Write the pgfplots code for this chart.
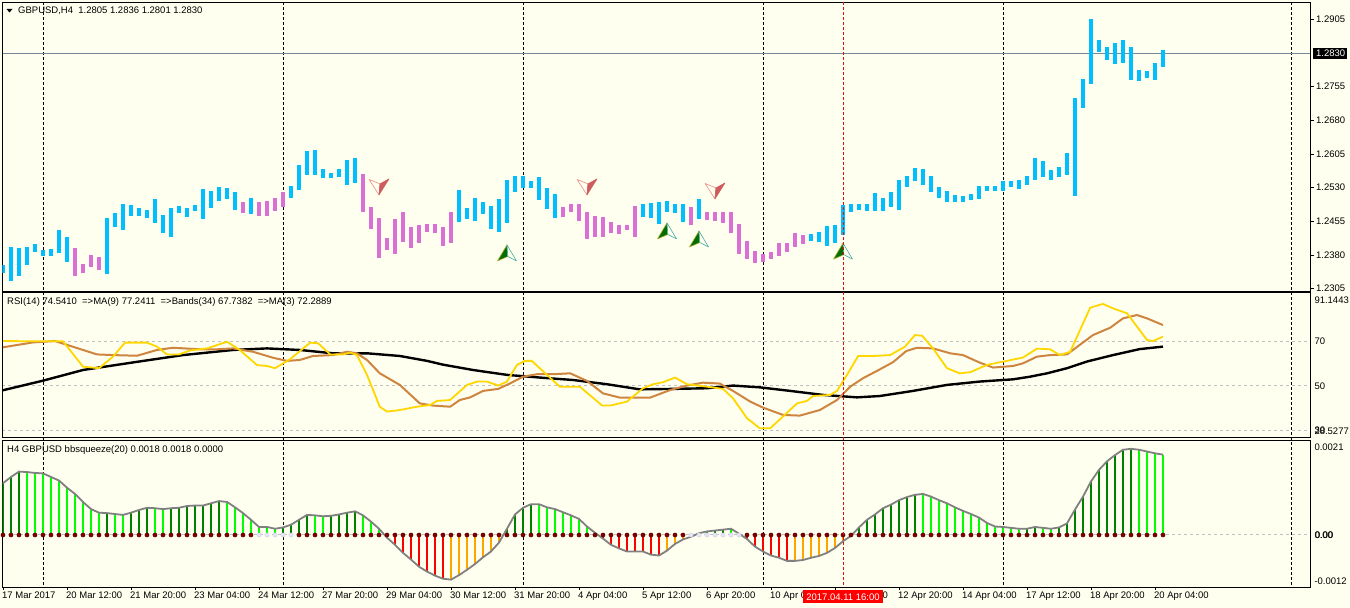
\documentclass[border=0pt]{standalone}
\usepackage{pgfplots}
\pgfplotsset{compat=1.18}
\usepackage{pgfplotstable}
\usepackage{fontspec}
\setmainfont{Liberation Sans}
\newcommand\mt{\fontsize{9.5bp}{11bp}\selectfont}

\definecolor{mtivory}{RGB}{255,255,240}
\definecolor{skyb}{RGB}{0,191,255}
\definecolor{orch}{RGB}{218,112,214}
\definecolor{rsigold}{RGB}{255,215,0}
\definecolor{rsiperu}{RGB}{205,133,63}
\definecolor{hdgreen}{RGB}{0,128,0}
\definecolor{hlime}{RGB}{0,255,0}
\definecolor{hred}{RGB}{255,0,0}
\definecolor{horange}{RGB}{255,165,0}
\definecolor{hgray}{RGB}{128,128,128}
\definecolor{hmaroon}{RGB}{128,0,0}
\definecolor{hmaroonD}{RGB}{90,0,0}
\definecolor{hlav}{RGB}{230,230,250}
\definecolor{hlavD}{RGB}{205,205,235}
\definecolor{slate}{RGB}{119,136,153}
\definecolor{silv}{RGB}{192,192,192}
\definecolor{bgreen}{RGB}{0,110,0}
\definecolor{byellow}{RGB}{170,170,40}
\definecolor{bcyan}{RGB}{70,170,160}
\definecolor{indred}{RGB}{205,92,92}
\definecolor{salm}{RGB}{235,140,130}
\definecolor{vline}{RGB}{215,20,20}

\pgfdeclareplotmark{buyarrow}{%
  \pgfsetlinewidth{0.6bp}%
  \pgfsetroundjoin
  \pgfpathmoveto{\pgfpoint{0bp}{8bp}}%
  \pgfpathlineto{\pgfpoint{-9.5bp}{-8bp}}%
  \pgfpathlineto{\pgfpoint{0.8bp}{-3.5bp}}%
  \pgfpathclose
  \pgfsetfillcolor{bgreen}\pgfsetstrokecolor{byellow}%
  \pgfusepath{fill,stroke}%
  \pgfpathmoveto{\pgfpoint{0bp}{8bp}}%
  \pgfpathlineto{\pgfpoint{0.8bp}{-3.5bp}}%
  \pgfpathlineto{\pgfpoint{9.5bp}{-8bp}}%
  \pgfpathclose
  \pgfsetfillcolor{mtivory}\pgfsetstrokecolor{bcyan}%
  \pgfusepath{fill,stroke}%
}
\pgfdeclareplotmark{sellarrow}{%
  \pgfsetlinewidth{0.6bp}%
  \pgfsetroundjoin
  \pgfpathmoveto{\pgfpoint{0bp}{-8bp}}%
  \pgfpathlineto{\pgfpoint{-10bp}{7.5bp}}%
  \pgfpathlineto{\pgfpoint{1bp}{3bp}}%
  \pgfpathclose
  \pgfsetfillcolor{mtivory}\pgfsetstrokecolor{salm}%
  \pgfusepath{fill,stroke}%
  \pgfpathmoveto{\pgfpoint{0bp}{-8bp}}%
  \pgfpathlineto{\pgfpoint{1bp}{3bp}}%
  \pgfpathlineto{\pgfpoint{10bp}{8bp}}%
  \pgfpathclose
  \pgfsetfillcolor{indred}\pgfsetstrokecolor{indred}%
  \pgfusepath{fill,stroke}%
}

% price bars: index, high, low, colour (0 blue, 1 violet)
\pgfplotstableread{
i hi lo c
0 1.2358 1.2341 0
1 1.2398 1.2323 0
2 1.2396 1.2334 0
3 1.2398 1.2358 0
4 1.2405 1.2387 0
5 1.2392 1.2378 0
6 1.2394 1.2378 0
7 1.2436 1.2385 0
8 1.2421 1.2365 0
9 1.2396 1.2334 1
10 1.2361 1.2341 1
11 1.2381 1.2354 1
12 1.2376 1.2347 1
13 1.2463 1.2338 0
14 1.2474 1.2443 0
15 1.2494 1.2436 0
16 1.2492 1.2467 0
17 1.2485 1.2467 0
18 1.2481 1.2463 0
19 1.2505 1.2452 0
20 1.2470 1.2430 0
21 1.2485 1.2421 0
22 1.2490 1.2474 0
23 1.2485 1.2465 0
24 1.2492 1.2479 0
25 1.2528 1.2461 0
26 1.2523 1.2485 0
27 1.2532 1.2501 0
28 1.2530 1.2505 0
29 1.2521 1.2481 0
30 1.2499 1.2474 1
31 1.2508 1.2472 0
32 1.2499 1.2467 1
33 1.2501 1.2467 1
34 1.2508 1.2479 1
35 1.2521 1.2488 1
36 1.2535 1.2508 0
37 1.2581 1.2526 0
38 1.2612 1.2559 0
39 1.2614 1.2559 0
40 1.2572 1.2552 0
41 1.2563 1.2552 0
42 1.2572 1.2555 0
43 1.2592 1.2537 0
44 1.2596 1.2541 0
45 1.2561 1.2476 1
46 1.2488 1.2438 1
47 1.2463 1.2374 1
48 1.2418 1.2392 1
49 1.2461 1.2383 1
50 1.2476 1.2410 1
51 1.2443 1.2396 1
52 1.2447 1.2407 1
53 1.2450 1.2432 1
54 1.2450 1.2430 1
55 1.2443 1.2401 1
56 1.2476 1.2407 1
57 1.2526 1.2454 0
58 1.2485 1.2461 0
59 1.2508 1.2456 0
60 1.2499 1.2472 0
61 1.2490 1.2438 0
62 1.2505 1.2432 0
63 1.2548 1.2452 0
64 1.2557 1.2521 0
65 1.2557 1.2530 0
66 1.2546 1.2530 0
67 1.2555 1.2503 0
68 1.2530 1.2483 0
69 1.2517 1.2463 0
70 1.2488 1.2465 1
71 1.2494 1.2476 1
72 1.2494 1.2456 1
73 1.2476 1.2416 1
74 1.2467 1.2421 1
75 1.2465 1.2421 1
76 1.2454 1.2430 1
77 1.2447 1.2427 1
78 1.2447 1.2436 1
79 1.2490 1.2421 1
80 1.2494 1.2465 0
81 1.2496 1.2463 0
82 1.2499 1.2450 0
83 1.2501 1.2476 0
84 1.2494 1.2474 0
85 1.2494 1.2454 0
86 1.2488 1.2447 1
87 1.2505 1.2461 0
88 1.2476 1.2459 1
89 1.2476 1.2456 1
90 1.2476 1.2452 1
91 1.2476 1.2430 1
92 1.2450 1.2383 1
93 1.2412 1.2372 1
94 1.2389 1.2363 1
95 1.2383 1.2365 1
96 1.2387 1.2372 1
97 1.2407 1.2378 1
98 1.2407 1.2387 1
99 1.2430 1.2398 1
100 1.2425 1.2405 1
101 1.2427 1.2412 0
102 1.2432 1.2410 0
103 1.2445 1.2401 0
104 1.2447 1.2407 0
105 1.2492 1.2425 0
106 1.2494 1.2476 0
107 1.2494 1.2481 0
108 1.2494 1.2479 0
109 1.2519 1.2479 0
110 1.2508 1.2479 0
111 1.2521 1.2488 0
112 1.2548 1.2481 0
113 1.2557 1.2532 0
114 1.2574 1.2544 0
115 1.2572 1.2537 0
116 1.2557 1.2521 0
117 1.2532 1.2508 0
118 1.2523 1.2499 0
119 1.2514 1.2499 0
120 1.2512 1.2499 0
121 1.2517 1.2503 0
122 1.2535 1.2505 0
123 1.2535 1.2523 0
124 1.2535 1.2523 0
125 1.2544 1.2523 0
126 1.2546 1.2532 0
127 1.2548 1.2528 0
128 1.2557 1.2537 0
129 1.2596 1.2548 0
130 1.2590 1.2555 0
131 1.2570 1.2548 0
132 1.2576 1.2555 0
133 1.2608 1.2559 0
134 1.2730 1.2512 0
135 1.2772 1.2708 0
136 1.2906 1.2761 0
137 1.2859 1.2832 0
138 1.2843 1.2814 0
139 1.2852 1.2806 0
140 1.2859 1.2808 0
141 1.2843 1.2770 0
142 1.2792 1.2768 0
143 1.2790 1.2774 0
144 1.2808 1.2770 0
145 1.2837 1.2799 0
}\pricetab

% bbsqueeze histogram: index, value, colour (1 dkgreen 2 lime 3 red 4 orange), dot (0 dark, 1 light)
\pgfplotstableread{
i v c d
0 0.00116 1 0
1 0.00130 1 0
2 0.00142 1 0
3 0.00141 2 0
4 0.00139 2 0
5 0.00138 2 0
6 0.00130 2 0
7 0.00122 2 0
8 0.00106 2 0
9 0.00092 2 0
10 0.00074 2 0
11 0.00058 2 0
12 0.00050 2 0
13 0.00049 1 0
14 0.00047 2 0
15 0.00045 2 0
16 0.00050 1 0
17 0.00056 1 0
18 0.00061 1 0
19 0.00060 2 0
20 0.00058 2 0
21 0.00060 1 0
22 0.00061 1 0
23 0.00065 1 0
24 0.00066 1 0
25 0.00066 1 0
26 0.00071 1 0
27 0.00076 1 0
28 0.00074 2 0
29 0.00062 2 0
30 0.00049 2 0
31 0.00034 2 0
32 0.00018 2 1
33 0.00018 2 1
34 0.00014 2 1
35 0.00017 1 1
36 0.00023 1 1
37 0.00034 1 0
38 0.00045 1 0
39 0.00044 2 0
40 0.00042 2 0
41 0.00043 1 0
42 0.00046 1 0
43 0.00050 1 0
44 0.00053 1 0
45 0.00044 2 0
46 0.00030 2 0
47 0.00014 2 0
48 -0.00006 3 0
49 -0.00022 3 0
50 -0.00040 3 0
51 -0.00055 3 0
52 -0.00071 3 0
53 -0.00082 3 0
54 -0.00091 3 0
55 -0.00098 3 0
56 -0.00100 4 0
57 -0.00090 4 0
58 -0.00078 4 0
59 -0.00065 4 0
60 -0.00050 4 0
61 -0.00037 4 0
62 -0.00017 4 0
63 0.00014 1 0
64 0.00046 1 0
65 0.00061 1 0
66 0.00069 1 0
67 0.00069 2 0
68 0.00062 2 0
69 0.00058 2 0
70 0.00051 2 0
71 0.00044 2 0
72 0.00036 2 0
73 0.00019 2 0
74 0.00005 2 0
75 -0.00008 3 0
76 -0.00022 3 0
77 -0.00030 3 0
78 -0.00037 3 0
79 -0.00037 3 0
80 -0.00037 3 0
81 -0.00044 3 0
82 -0.00046 3 0
83 -0.00035 4 0
84 -0.00020 4 0
85 -0.00010 4 0
86 -0.00004 4 1
87 0.00004 1 1
88 0.00008 1 1
89 0.00010 1 1
90 0.00012 1 1
91 0.00014 2 1
92 0.00003 2 1
93 -0.00009 3 0
94 -0.00026 3 0
95 -0.00037 3 0
96 -0.00046 3 0
97 -0.00051 3 0
98 -0.00058 3 0
99 -0.00058 4 0
100 -0.00056 4 0
101 -0.00051 4 0
102 -0.00047 4 0
103 -0.00040 4 0
104 -0.00029 4 0
105 -0.00014 4 0
106 -0.00002 4 0
107 0.00017 1 0
108 0.00034 1 0
109 0.00046 1 0
110 0.00060 1 0
111 0.00068 1 0
112 0.00078 1 0
113 0.00085 1 0
114 0.00090 1 0
115 0.00092 2 0
116 0.00086 2 0
117 0.00078 2 0
118 0.00071 2 0
119 0.00062 2 0
120 0.00054 2 0
121 0.00047 2 0
122 0.00039 2 0
123 0.00027 2 0
124 0.00019 2 0
125 0.00018 2 0
126 0.00016 2 0
127 0.00014 2 0
128 0.00014 1 0
129 0.00018 1 0
130 0.00016 2 0
131 0.00014 2 0
132 0.00017 1 0
133 0.00026 1 0
134 0.00057 1 0
135 0.00086 1 0
136 0.00120 1 0
137 0.00146 1 0
138 0.00165 1 0
139 0.00179 1 0
140 0.00191 1 0
141 0.00193 1 0
142 0.00191 2 0
143 0.00187 2 0
144 0.00183 2 0
145 0.00180 2 0
}\histtab

\begin{document}
\begin{tikzpicture}
\fill[mtivory] (0,0) rectangle (1350bp,608bp);

% grid behind the data
\begin{scope}[x=1bp,y=-1bp,shift={(0bp,608bp)}]
  \foreach \gx in {43,283,523,763,1003,1291.5}{
    \draw[black, line width=1bp, dash pattern=on 3bp off 2bp] (\gx,2.3) -- (\gx,587);
  }
  \foreach \gy in {341.3,386,430.3,535}{
    \draw[silv, line width=1bp, dash pattern=on 3bp off 3bp] (2.3,\gy) -- (1310.7,\gy);
  }
  \draw[slate, line width=1bp] (2.3,53.3) -- (1310.7,53.3);
\end{scope}

\pgfplotsset{mtaxis/.style={scale only axis, anchor=south west, width=1308.4bp,
  xmin=-0.0875, xmax=163.4625, axis line style={black, line width=0.8bp},
  tick style={black, line width=0.8bp}, tick align=outside, major tick length=3bp,
  scaled y ticks=false, scaled x ticks=false}}

% ---------- price panel ----------
\begin{axis}[mtaxis, at={(2.3bp,317bp)}, height=288.7bp,
  ymin=1.23003, ymax=1.29428, xtick=\empty,
  ytick={1.2305,1.2380,1.2455,1.2530,1.2605,1.2680,1.2755,1.2905},
  yticklabel={\relax}, ytick pos=right]
\addplot[draw=none, mark=none, forget plot,
  restrict expr to domain={\thisrow{c}}{0:0},
  error bars/.cd, y dir=plus, y explicit, error mark=none,
  error bar style={line width=4bp, draw=skyb, solid}]
  table[x=i, y=lo, y error expr=\thisrow{hi}-\thisrow{lo}] {\pricetab};
\addplot[draw=none, mark=none, forget plot,
  restrict expr to domain={\thisrow{c}}{1:1},
  error bars/.cd, y dir=plus, y explicit, error mark=none,
  error bar style={line width=4bp, draw=orch, solid}]
  table[x=i, y=lo, y error expr=\thisrow{hi}-\thisrow{lo}] {\pricetab};
\addplot[only marks, mark=buyarrow] coordinates {(63,1.2385) (83,1.2434) (87,1.2416) (105,1.2389)};
\addplot[only marks, mark=sellarrow] coordinates {(47,1.2532) (73,1.2532) (89,1.2523)};
\end{axis}

% ---------- RSI panel ----------
\begin{axis}[mtaxis, at={(2.3bp,170.3bp)}, height=145.4bp,
  ymin=26.67, ymax=92.02, xtick=\empty, ytick=\empty]
\addplot[black, line width=2.4bp, mark=none] coordinates {
(0,48) (5,52.3) (10,57.1) (16.25,60.5) (22.5,63.8) (28.75,66.1) (33,66.8) (37.1,66.1)
(41.25,64.6) (45.5,64.6) (49.6,63.4) (53,61.2) (55,59.5) (58.75,57.1) (63,54.9) (67.1,53.7)
(71.25,52.6) (75.5,50.7) (79.6,48.4) (83.75,48.6) (88,48.9) (91.25,50.1) (94.6,49.3)
(98.4,47.7) (102.5,45.9) (106.75,44.8) (109.6,45.4) (113.75,47.7) (118,50.4) (122.1,51.9)
(126.25,52.9) (128.4,54.1) (130.5,55.6) (133,57.9) (135.5,60.9) (138.75,63.8) (142.1,66.5) (145,67.6)};
\addplot[rsiperu, line width=2bp, mark=none] coordinates {
(0,67.3) (3.75,69.5) (6.5,70.1) (8,68.4) (10,66.1) (11.75,64.1) (13.75,63.8) (16.75,63.5)
(19.25,66.1) (21.25,67.1) (24.6,66.4) (26.75,66.4) (28.75,66.8) (31.25,65.3) (33.75,62.6)
(35.5,61.2) (37.1,61.6) (38.75,63.4) (41.25,63.8) (43,65.3) (44.25,64.6) (45.5,61.6)
(47.1,55.6) (49.6,50.4) (52.1,42.1) (53.75,41.1) (55.9,40.6) (57.1,43.6) (58.4,44.8)
(60,47.7) (61.9,48.6) (63.4,51.1) (65,54.1) (66.75,55.2) (68.75,55.2) (70.9,55.6) (73,52.2)
(75,46.6) (77.1,44.7) (80.9,44.7) (83.4,48.1) (85.5,50.1) (87.5,51.4) (89.6,51) (91.25,47.7)
(93.4,42.9) (95,40.2) (97.5,36.9) (99.6,36.6) (102.1,39.1) (104.25,43.6) (105.9,49.6)
(107.5,53.4) (109.25,56.7) (111.25,60.6) (112.9,65.6) (114.25,67.1) (116.25,66.8) (118.4,64.6)
(120,63.8) (122.1,60.4) (123.75,58.2) (126.25,58.9) (127.5,60.1) (129.25,63.1) (130.9,63.8)
(133,64.1) (134.6,68.4) (136.25,72.8) (138.4,76.1) (140,80.3) (141.75,81.8) (143,80.3) (145,77.3)};
\addplot[rsigold, line width=1.8bp, mark=none] coordinates {
(0,70.1) (5,70) (7.5,70) (10,58.6) (12,57.9) (13.75,63.1) (15.25,69.4) (18,69.4) (19.25,67.6)
(20.5,64.1) (22,64.1) (23.4,65.9) (25.5,66.8) (28,69.8) (29.6,66.1) (31.75,59.3) (33,58.9)
(34,57.9) (35.9,62) (38.4,69.4) (39.4,69.1) (40.9,64.1) (42.5,64.1) (43.4,64.9) (44.25,63.8)
(45.5,54.9) (47.1,40.6) (48,38.4) (49.6,39.1) (51.75,40.6) (53.4,41.4) (54.25,43.2) (55.9,43.6)
(58,50.4) (59.25,51.9) (60.5,51.9) (61.9,50.1) (63,51.9) (64.25,59.4) (65.25,61.2) (66.1,61.2)
(68,54.9) (69.6,49.6) (72.1,49.6) (74.9,41.1) (75.9,41.1) (78,42.9) (80,48.9) (81.25,50.7)
(82.5,51.6) (84,53.7) (85.5,50.7) (88,49.6) (90,48.6) (91.25,44.4) (93,35.4) (94.6,30.9)
(95.9,30.9) (97.5,36.2) (99.25,42.1) (100.5,43.2) (101.25,45.4) (103.4,45.9) (104.25,47.7)
(105.5,54.9) (106.9,63.4) (108.75,63.4) (110.9,63.8) (112.75,67.6) (114,72.8) (114.9,72.5)
(116.25,66.8) (118,57.9) (119.6,55.6) (120.9,56.1) (123,59.4) (125.5,61.2) (127.5,62.7)
(129.25,66.7) (130.9,66.4) (132.1,63.8) (133.4,65.3) (135.9,85.1) (137.5,86.8) (138.75,84.8)
(140.5,82.6) (143,70.6) (143.75,70.1) (145,72.1)};
\end{axis}

% ---------- bbsqueeze panel ----------
\begin{axis}[mtaxis, at={(2.3bp,21bp)}, height=146.7bp,
  ymin=-0.0011648, ymax=0.0021213, ytick=\empty,
  xtick={0,8,...,144}, xticklabel={\relax}, xtick pos=bottom]
\addplot[ycomb, hdgreen, line width=2.8bp, mark=none, restrict expr to domain={\thisrow{c}}{1:1}] table[x=i,y=v] {\histtab};
\addplot[ycomb, hlime, line width=2.8bp, mark=none, restrict expr to domain={\thisrow{c}}{2:2}] table[x=i,y=v] {\histtab};
\addplot[ycomb, hred, line width=2.8bp, mark=none, restrict expr to domain={\thisrow{c}}{3:3}] table[x=i,y=v] {\histtab};
\addplot[ycomb, horange, line width=2.8bp, mark=none, restrict expr to domain={\thisrow{c}}{4:4}] table[x=i,y=v] {\histtab};
\addplot[hgray, line width=1.8bp, mark=none] table[x=i,y=v] {\histtab};
\addplot[only marks, mark=*, mark size=2.1bp, mark options={fill=hmaroon, draw=hmaroonD, line width=0.4bp},
  restrict expr to domain={\thisrow{d}}{0:0}] table[x=i, y expr=0] {\histtab};
\addplot[only marks, mark=*, mark size=2.1bp, mark options={fill=hlav, draw=hlavD, line width=0.4bp},
  restrict expr to domain={\thisrow{d}}{1:1}] table[x=i, y expr=0] {\histtab};
\end{axis}

% ---------- overlays and text ----------
\begin{scope}[x=1bp,y=-1bp,shift={(0bp,608bp)}]
  \draw[vline, line width=1bp, dash pattern=on 3bp off 2bp] (843.3,2.3) -- (843.3,587);
  % headers
  \fill[black] (6.5,9) -- (12.5,9) -- (9.5,12.5) -- cycle;
  \node[anchor=base west, inner sep=0, font=\mt] at (18,13.7) {GBPUSD,H4\ \ 1.2805 1.2836 1.2801 1.2830};
  \node[anchor=base west, inner sep=0, font=\mt] at (7,304.8) {RSI(14) 74.5410\ \ =>MA(9) 77.2411\ \ =>Bands(34) 67.7382\ \ =>MA(3) 72.2889};
  \node[anchor=base west, inner sep=0, font=\mt] at (7,452.8) {H4 GBPUSD bbsqueeze(20) 0.0018 0.0018 0.0000};
  % price scale
  \foreach \v/\yy in {1.2905/19.3, 1.2755/86.7, 1.2680/120.3, 1.2605/154.3, 1.2530/187.7, 1.2455/221.3, 1.2380/255.3, 1.2305/288.7}{
    \node[anchor=west, inner sep=0, font=\mt] at (1316,\yy) {\v};
  }
  \fill[black] (1312.7,47.8) rectangle (1347,58.8);
  \node[anchor=west, inner sep=0, font=\mt, text=white] at (1316,53.3) {1.2830};
  % RSI scale
  \node[anchor=west, inner sep=0, font=\mt] at (1314.3,300.7) {91.1443};
  \node[anchor=west, inner sep=0, font=\mt] at (1314.3,341.3) {70};
  \node[anchor=west, inner sep=0, font=\mt] at (1314.3,386) {50};
  \node[anchor=west, inner sep=0, font=\mt] at (1314.3,430.3) {30};
  \node[anchor=west, inner sep=0, font=\mt] at (1314.3,431) {28.5277};
  % squeeze scale
  \node[anchor=west, inner sep=0, font=\mt] at (1314.3,447.5) {0.0021};
  \node[anchor=west, inner sep=0, font=\mt] at (1314.3,535) {0.00};
  \node[anchor=west, inner sep=0, font=\mt] at (1314.8,535) {0.00};
  \node[anchor=west, inner sep=0, font=\mt] at (1314.3,581.3) {-0.0012};
  % time scale
  \foreach \k/\lab in {0/17 Mar 2017, 1/20 Mar 12:00, 2/21 Mar 20:00, 3/23 Mar 04:00,
     4/24 Mar 12:00, 5/27 Mar 20:00, 6/29 Mar 04:00, 7/30 Mar 12:00, 8/31 Mar 20:00,
     9/4 Apr 04:00, 10/5 Apr 12:00, 11/6 Apr 20:00, 12/10 Apr 04:00, 13/11 Apr 12:00,
     14/12 Apr 20:00, 15/14 Apr 04:00, 16/17 Apr 12:00, 17/18 Apr 20:00, 18/20 Apr 04:00}{
    \node[anchor=base west, inner sep=0, font=\mt] at ({2+64*\k},598.8) {\lab};
  }
  \fill[hred] (803,590) rectangle (883,603.5);
  \node[inner sep=0, font=\mt, text=white] at (843,596.8) {2017.04.11 16:00};
\end{scope}

\pgfresetboundingbox
\useasboundingbox (0,0) rectangle (1350bp,608bp);
\end{tikzpicture}
\end{document}
